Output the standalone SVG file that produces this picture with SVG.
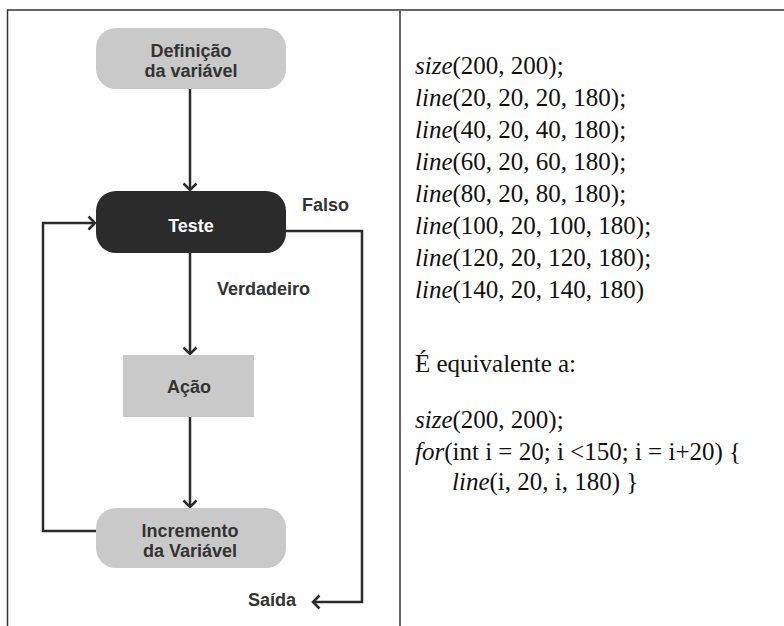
<svg xmlns="http://www.w3.org/2000/svg" width="784" height="626" viewBox="0 0 784 626">
  <defs>
    <marker id="chev" viewBox="-8 -8 10 16" refX="0" refY="0" markerWidth="10" markerHeight="16" markerUnits="userSpaceOnUse" orient="auto">
      <path d="M-6.5,-6.5 L0,0 L-6.5,6.5" fill="none" stroke="#2b2b2b" stroke-width="2.5" stroke-linejoin="miter"/>
    </marker>
  </defs>
  <style>
    .lbl { font-family: "Liberation Sans", Arial, sans-serif; font-weight: bold; font-size: 18px; fill: #333; }
    .node-lbl { text-anchor: middle; }
    .light { fill: #c9c9c9; }
    .dark { fill: #2b2b2b; }
    .wire { fill: none; stroke: #2b2b2b; stroke-width: 2.5; marker-end: url(#chev); }
    .code { font-family: "Liberation Serif", "Times New Roman", serif; font-size: 25px; fill: #111; }
    .fn { font-style: italic; }
    .rule { stroke: #333; stroke-width: 1.5; }
  </style>

  <rect x="0" y="0" width="784" height="626" fill="#fff"/>

  <!-- table frame -->
  <g id="frame">
    <line class="rule" x1="7" y1="10" x2="784" y2="10"/>
    <line class="rule" x1="7.5" y1="10" x2="7.5" y2="626"/>
    <line x1="400" y1="10" x2="400" y2="626" stroke="#666" stroke-width="2"/>
  </g>

  <!-- connectors -->
  <g id="connectors">
    <path class="wire" d="M190,89 L190,190"/>
    <path class="wire" d="M190,253 L190,354"/>
    <path class="wire" d="M190,417 L190,507"/>
    <path class="wire" d="M96,531 L43,531 L43,223 L95,223"/>
    <path class="wire" d="M286,231 L362,231 L362,602 L313,602"/>
  </g>

  <g id="node-definicao">
    <rect class="light" x="96" y="28" width="190" height="61" rx="20"/>
    <text class="lbl node-lbl" x="191" y="57">Definição</text>
    <text class="lbl node-lbl" x="191" y="77">da variável</text>
  </g>

  <g id="node-teste">
    <rect class="dark" x="96" y="191" width="190" height="62" rx="20"/>
    <text class="lbl node-lbl" x="191" y="232" style="fill:#fff">Teste</text>
  </g>

  <g id="node-acao">
    <rect class="light" x="123" y="355" width="131" height="62"/>
    <text class="lbl node-lbl" x="189" y="393">Ação</text>
  </g>

  <g id="node-incremento">
    <rect class="light" x="96" y="508" width="190" height="60" rx="20"/>
    <text class="lbl node-lbl" x="190" y="537">Incremento</text>
    <text class="lbl node-lbl" x="190" y="557">da Variável</text>
  </g>

  <!-- branch labels -->
  <g id="labels">
    <text class="lbl" x="302" y="211">Falso</text>
    <text class="lbl" x="217" y="295">Verdadeiro</text>
    <text class="lbl" x="248" y="606">Saída</text>
  </g>

  <!-- code listing -->
  <g id="code">
    <text class="code" x="415" y="74"><tspan class="fn">size</tspan>(200, 200);</text>
    <text class="code" x="415" y="106"><tspan class="fn">line</tspan>(20, 20, 20, 180);</text>
    <text class="code" x="415" y="138"><tspan class="fn">line</tspan>(40, 20, 40, 180);</text>
    <text class="code" x="415" y="170"><tspan class="fn">line</tspan>(60, 20, 60, 180);</text>
    <text class="code" x="415" y="202"><tspan class="fn">line</tspan>(80, 20, 80, 180);</text>
    <text class="code" x="415" y="234"><tspan class="fn">line</tspan>(100, 20, 100, 180);</text>
    <text class="code" x="415" y="266"><tspan class="fn">line</tspan>(120, 20, 120, 180);</text>
    <text class="code" x="415" y="298"><tspan class="fn">line</tspan>(140, 20, 140, 180)</text>
    <text class="code" x="415" y="372">É equivalente a:</text>
    <text class="code" x="415" y="428"><tspan class="fn">size</tspan>(200, 200);</text>
    <text class="code" x="415" y="460"><tspan class="fn">for</tspan>(int i = 20; i &lt;150; i = i+20) {</text>
    <text class="code" x="452" y="490"><tspan class="fn">line</tspan>(i, 20, i, 180) }</text>
  </g>
</svg>
